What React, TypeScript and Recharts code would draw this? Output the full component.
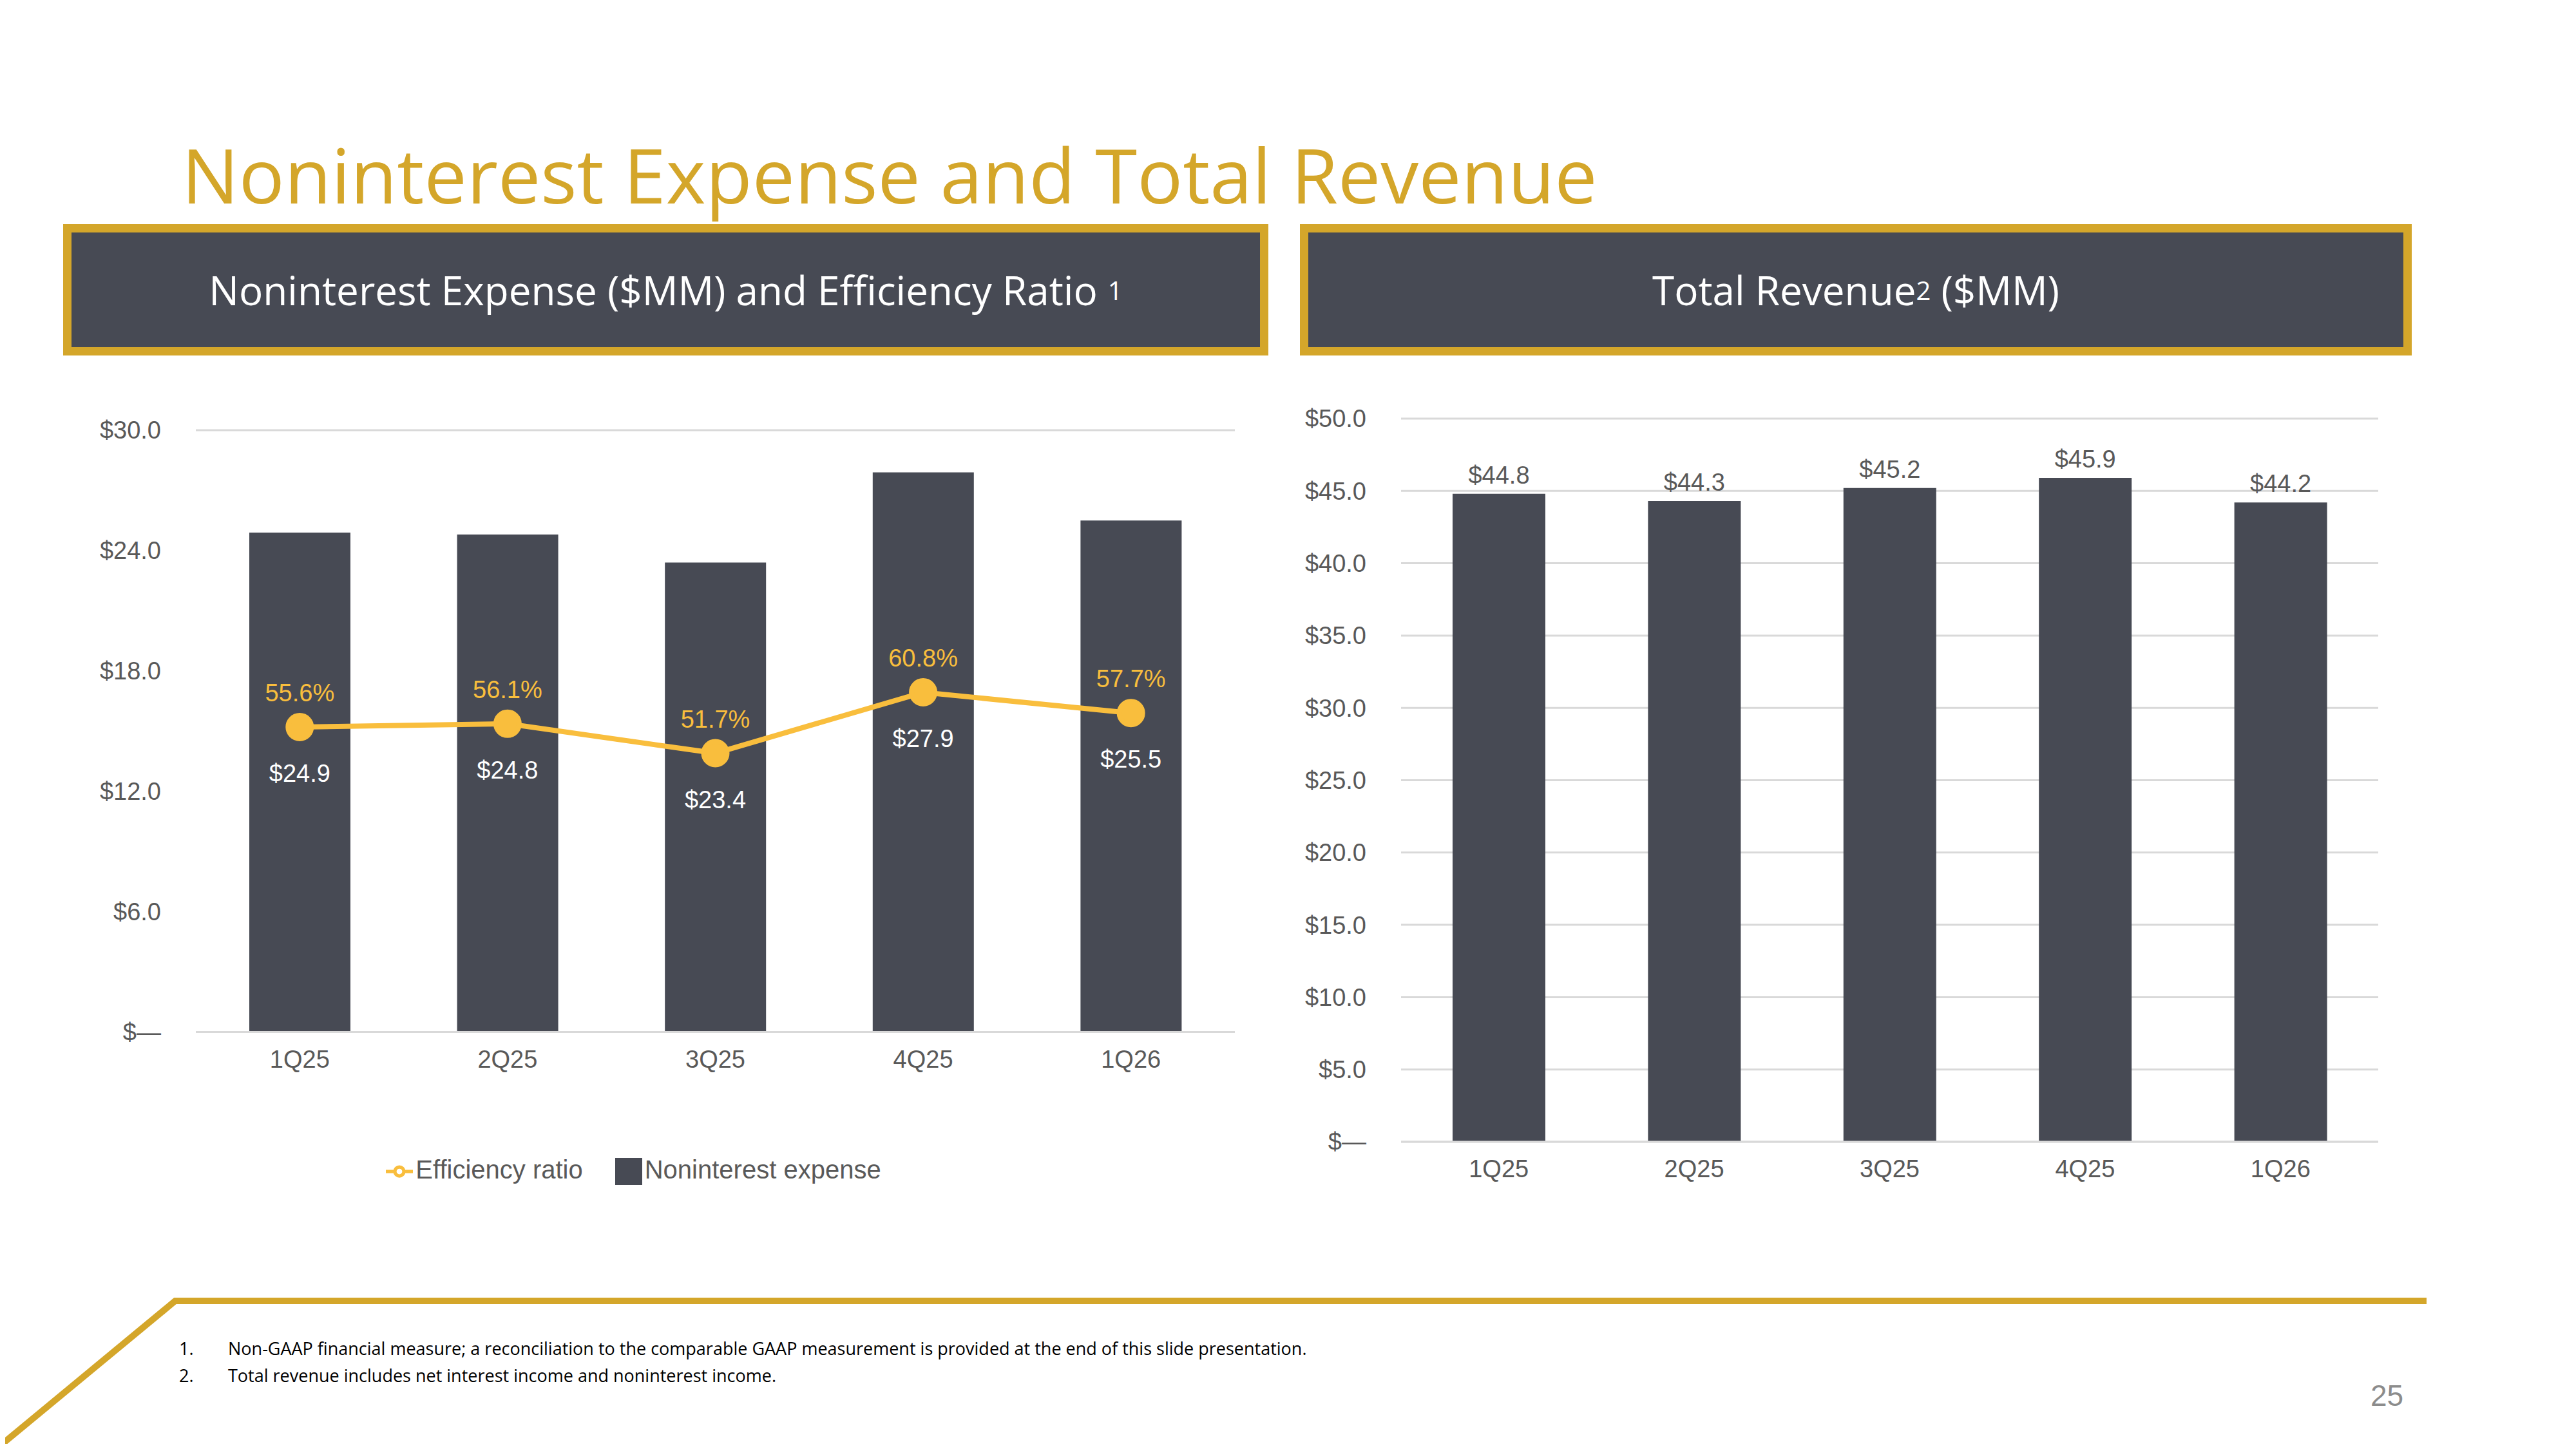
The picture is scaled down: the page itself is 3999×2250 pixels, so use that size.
import { ComposedChart, BarChart, Bar, Line, XAxis, YAxis, CartesianGrid, LabelList, Legend } from 'recharts'

const quarters = ['1Q25', '2Q25', '3Q25', '4Q25', '1Q26']
const expense = [24.9, 24.8, 23.4, 27.9, 25.5]
const efficiency = [55.6, 56.1, 51.7, 60.8, 57.7]
const revenue = [44.8, 44.3, 45.2, 45.9, 44.2]
const expenseTicks = [0, 6, 12, 18, 24, 30]
const revenueTicks = [0, 5, 10, 15, 20, 25, 30, 35, 40, 45, 50]

const GOLD = '#D4A62A'
const DARK = '#474A54'
const LINE = '#F9BE3D'
const GRID = '#D9D9D9'
const TICK = '#595959'
const FONT = '"Liberation Sans", Arial, sans-serif'

const leftData = quarters.map((q, i) => ({ q, expense: expense[i], efficiency: efficiency[i] }))
const rightData = quarters.map((q, i) => ({ q, revenue: revenue[i] }))

const money = (v: number) => (v === 0 ? '$—' : `$${v.toFixed(1)}`)

const tickStyle = { fill: TICK, fontSize: 38, fontFamily: FONT }

function Header({ left, width, children }: { left: number; width: number; children: any }) {
    return (
        <div style={{
            position: 'absolute', left, top: 348, width, height: 204, boxSizing: 'border-box',
            background: DARK, border: `13px solid ${GOLD}`, color: '#fff',
            fontFamily: '"Open Sans", sans-serif', fontSize: 62,
            display: 'flex', alignItems: 'center', justifyContent: 'center',
        }}>
            {children}
        </div>
    )
}

export default function App() {
    return (
        <div style={{ position: 'relative', width: 3999, height: 2250, margin: -8, background: '#fff', overflow: 'hidden' }}>
            <div style={{ position: 'absolute', left: 282, top: 190, color: GOLD, fontFamily: '"Open Sans", sans-serif', fontSize: 118 }}>
                Noninterest Expense and Total Revenue
            </div>
            <Header left={98} width={1871}>
                Noninterest Expense ($MM) and Efficiency Ratio&nbsp;<sup style={{ fontSize: 40 }}>1</sup>
            </Header>
            <Header left={2018} width={1726}>
                Total Revenue<sup style={{ fontSize: 40 }}>2</sup>&nbsp;($MM)
            </Header>

            <div style={{ position: 'absolute', left: 100, top: 620 }}>
                <ComposedChart width={1850} height={1300} data={leftData} margin={{ top: 48, right: 33, left: 0, bottom: 171 }}>
                    <CartesianGrid vertical={false} stroke={GRID} strokeWidth={3} />
                    <XAxis dataKey="q" tick={tickStyle} tickLine={false} axisLine={{ stroke: GRID, strokeWidth: 3 }} tickMargin={22} height={100} />
                    <YAxis yAxisId="l" width={204} domain={[0, 30]} ticks={expenseTicks} tickFormatter={money} tick={tickStyle} tickLine={false} axisLine={false} tickMargin={48} />
                    <YAxis yAxisId="r" orientation="right" hide domain={[10, 100]} />
                    <Bar yAxisId="l" dataKey="expense" name="Noninterest expense" fill={DARK} barSize={157} legendType="square" isAnimationActive={false} />
                    <Line yAxisId="r" dataKey="efficiency" name="Efficiency ratio" stroke={LINE} strokeWidth={8}
                        dot={{ r: 18, fill: LINE, stroke: LINE }} legendType="line" isAnimationActive={false}>
                        <LabelList dataKey="efficiency" position="top" offset={40} formatter={(v: any) => `${v}%`}
                            style={{ fill: LINE, fontSize: 38, fontFamily: FONT }} />
                        <LabelList dataKey="expense" position="bottom" offset={58} formatter={(v: any) => `$${Number(v).toFixed(1)}`}
                            style={{ fill: '#fff', fontSize: 38, fontFamily: FONT }} />
                    </Line>
                    <Legend verticalAlign="bottom" iconSize={42}
                        wrapperStyle={{ bottom: 80, fontFamily: FONT, fontSize: 40 }}
                        formatter={(v: any) => <span style={{ color: TICK, marginRight: 40 }}>{v}</span>} />
                </ComposedChart>
            </div>

            <div style={{ position: 'absolute', left: 2000, top: 600 }}>
                <BarChart width={1720} height={1250} data={rightData} margin={{ top: 50, right: 28, left: 0, bottom: 0 }}>
                    <CartesianGrid vertical={false} stroke={GRID} strokeWidth={3} />
                    <XAxis dataKey="q" tick={tickStyle} tickLine={false} axisLine={{ stroke: GRID, strokeWidth: 3 }} tickMargin={22} height={77} />
                    <YAxis width={175} domain={[0, 50]} ticks={revenueTicks} tickFormatter={money} tick={tickStyle} tickLine={false} axisLine={false} tickMargin={48} />
                    <Bar dataKey="revenue" fill={DARK} barSize={144} isAnimationActive={false}>
                        <LabelList dataKey="revenue" position="top" offset={16} formatter={(v: any) => `$${Number(v).toFixed(1)}`}
                            style={{ fill: TICK, fontSize: 38, fontFamily: FONT }} />
                    </Bar>
                </BarChart>
            </div>

            <svg style={{ position: 'absolute', left: 0, top: 0 }} width={3999} height={2250}>
                <polyline points="0,2245 272,2020 3767,2020" fill="none" stroke={GOLD} strokeWidth={10} />
            </svg>
            <div style={{ position: 'absolute', left: 278, top: 2073, fontFamily: '"Open Sans", sans-serif', fontSize: 27, color: '#000', lineHeight: '42px' }}>
                <div><span style={{ display: 'inline-block', width: 76 }}>1.</span>Non-GAAP financial measure; a reconciliation to the comparable GAAP measurement is provided at the end of this slide presentation.</div>
                <div><span style={{ display: 'inline-block', width: 76 }}>2.</span>Total revenue includes net interest income and noninterest income.</div>
            </div>
            <div style={{ position: 'absolute', left: 3680, top: 2140, fontFamily: FONT, fontSize: 46, color: '#8C8C8C' }}>25</div>
        </div>
    )
}
